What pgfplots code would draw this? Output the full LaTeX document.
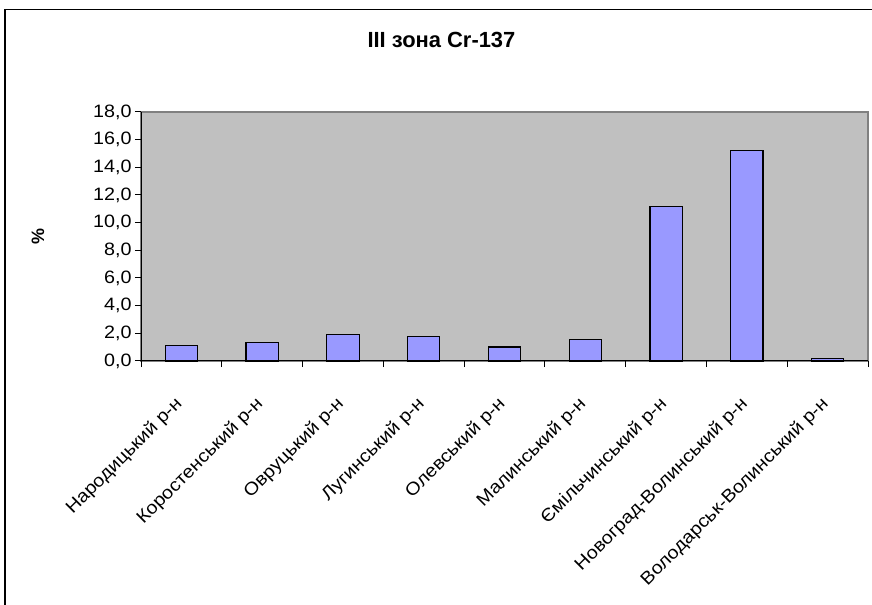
\documentclass[border=0pt]{standalone}
\usepackage{pgfplots}
\pgfplotsset{compat=1.18}
\usepackage{fontspec}
\setmainfont{Liberation Sans}
\newfontfamily\tickfont{Liberation Sans}[FakeStretch=1.1]

\definecolor{plotbg}{HTML}{C0C0C0}
\definecolor{plotframe}{HTML}{808080}
\definecolor{barfill}{HTML}{9999FF}

\begin{document}
\begin{tikzpicture}
\path[use as bounding box] (0,0) rectangle (872bp,605bp);
\fill[white] (0,0) rectangle (872bp,605bp);
% outer chart frame
\draw[black, line width=1.5bp] (5bp,-2bp) -- (5bp,595.5bp) -- (874bp,595.5bp);
\begin{axis}[
  at={(141bp,244bp)}, anchor=south west,
  scale only axis, width=727bp, height=249bp,
  xmin=-0.5, xmax=8.5, ymin=0, ymax=18,
  axis background/.style={fill=plotbg, draw=plotframe, line width=1.5bp},
  axis x line*=bottom, axis y line*=left,
  axis line style={-, black, line width=1bp},
  tick align=outside,
  xtick={0,...,8},
  xticklabels={Народицький р-н, Коростенський р-н, Овруцький р-н, Лугинський р-н, Олевський р-н, Малинський р-н, Ємільчинський р-н, Новоград-Волинський р-н, Володарськ-Волинський р-н},
  major x tick style={draw=none},
  minor xtick={-0.5,0.5,...,8.5},
  minor tick length=6bp,
  minor x tick style={draw=black, line width=1bp},
  ytick={0,2,...,18},
  major tick length=6bp,
  ytick style={draw=black, line width=1bp},
  /pgf/number format/assume math mode=true,
  yticklabel style={/pgf/number format/.cd, fixed, fixed zerofill, precision=1, use comma},
  ticklabel style={font=\tickfont\fontsize{18}{21}\selectfont},
  xticklabel style={inner sep=0pt, xshift=-8bp, yshift=-28bp, rotate=45, anchor=north east},
  title={III зона Cr-137},
  title style={at={(axis description cs:0.4133,1.267)}, anchor=center, font=\bfseries\fontsize{22}{26}\selectfont},
  ylabel={\%},
  ylabel style={at={(axis description cs:-0.1417,0.498)}, anchor=center, rotate=0, font=\bfseries\fontsize{18}{21}\selectfont},
  ybar, bar width=0.4,
  clip=false,
]
\addplot[fill=barfill, draw=black, line width=1.2bp] coordinates {
  (0,1.10) (1,1.32) (2,1.90) (3,1.78) (4,1.01) (5,1.57) (6,11.18) (7,15.20) (8,0.19)
};
\end{axis}
\end{tikzpicture}
\end{document}
